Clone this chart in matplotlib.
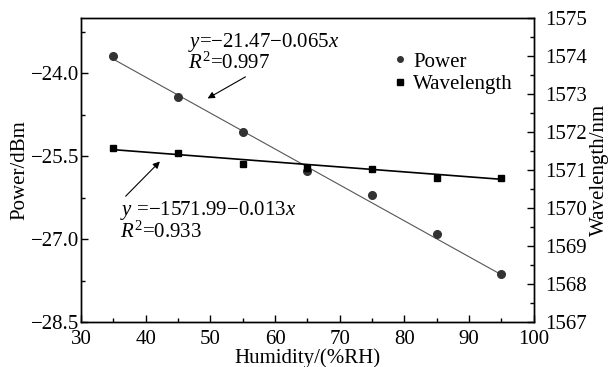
import numpy as np
import matplotlib
matplotlib.use('Agg')
import matplotlib.pyplot as plt
from matplotlib.ticker import MultipleLocator
from matplotlib.lines import Line2D

plt.rcParams['font.family'] = 'Liberation Serif'
plt.rcParams['mathtext.fontset'] = 'custom'
plt.rcParams['mathtext.rm'] = 'Liberation Serif'
plt.rcParams['mathtext.it'] = 'Liberation Serif:italic'

humidity = [35, 45, 55, 65, 75, 85, 95]
power = [-23.68, -24.43, -25.06, -25.76, -26.21, -26.91, -27.64]
wavelength = [1571.58, 1571.45, 1571.16, 1571.05, 1571.03, 1570.79, 1570.79]

# linear fits quoted in the figure
p_fit = (-21.47, -0.065)
w_fit = (1571.99, -0.013)

fs = 15

fig = plt.figure(figsize=(6.1, 3.67), dpi=100)
ax = fig.add_axes([0.1328, 0.1226, 0.7422, 0.8284])
ax2 = ax.twinx()

xf = np.array([humidity[0], humidity[-1]])
ax.plot(xf, p_fit[0] + p_fit[1] * xf, color='#555555', lw=0.8, zorder=2)
ax.plot(humidity, power, 'o', color='#333333', ms=5.5, zorder=3)
ax2.plot(xf, w_fit[0] + w_fit[1] * xf, color='black', lw=1.2, zorder=2)
ax2.plot(humidity, wavelength, 's', color='black', ms=5, zorder=3)

ax.set_xlim(30, 100)
ax.set_ylim(-28.5, -23.0)
ax2.set_ylim(1567, 1575)
ax.xaxis.set_major_locator(MultipleLocator(10))
ax.xaxis.set_minor_locator(MultipleLocator(5))
ax.yaxis.set_major_locator(MultipleLocator(1.5))
ax.yaxis.set_minor_locator(MultipleLocator(0.75))
ax2.yaxis.set_major_locator(MultipleLocator(1))
ax2.yaxis.set_minor_locator(MultipleLocator(0.5))
ax.yaxis.set_major_formatter(matplotlib.ticker.FuncFormatter(lambda v, p: ('%.1f' % v).replace('-', '\u2212')))

for a in (ax, ax2):
    a.tick_params(which='both', direction='in', labelsize=fs, pad=2)
    a.tick_params(which='major', length=5, width=1)
    a.tick_params(which='minor', length=3, width=1)
    for s in a.spines.values():
        s.set_linewidth(1.0)
ax.tick_params(top=False, which='both')
ax.tick_params(axis='y', pad=1)
ax.tick_params(axis='x', pad=6)
ax2.tick_params(axis='y', pad=8)

ax.set_xlabel('Humidity/(%RH)', fontsize=fs, labelpad=-1)
ax.set_ylabel('Power/dBm', fontsize=fs, labelpad=1)
ax2.set_ylabel('Wavelength/nm', fontsize=fs, rotation=90, labelpad=2)

ax.text(46.5, -23.44, '$y$=\u221221.47\u22120.065$x$', fontsize=fs, va='center')
ax.text(46.5, -23.81, '$R^2$=0.997', fontsize=fs, va='center')
ax.annotate('', xy=(49.2, -24.48), xytext=(55.8, -24.04),
            arrowprops=dict(arrowstyle='-|>', color='black', lw=0.8,
                            mutation_scale=10))

ax.text(36.0, -26.49, '$y$ =\u22121571.99\u22120.013$x$', fontsize=fs, va='center')
ax.text(36.0, -26.88, '$R^2$=0.933', fontsize=fs, va='center')
ax.annotate('', xy=(42.5, -25.56), xytext=(36.6, -26.26),
            arrowprops=dict(arrowstyle='-|>', color='black', lw=0.8,
                            mutation_scale=10))

handles = [Line2D([], [], marker='o', ls='none', color='#333333', ms=4),
           Line2D([], [], marker='s', ls='none', color='black', ms=4)]
ax.legend(handles, ['Power', 'Wavelength'], loc='upper right',
          bbox_to_anchor=(0.995, 0.95), frameon=False, fontsize=fs,
          handletextpad=0.1, handlelength=1.0, labelspacing=0.15)

fig.savefig('out.png', dpi=100)
